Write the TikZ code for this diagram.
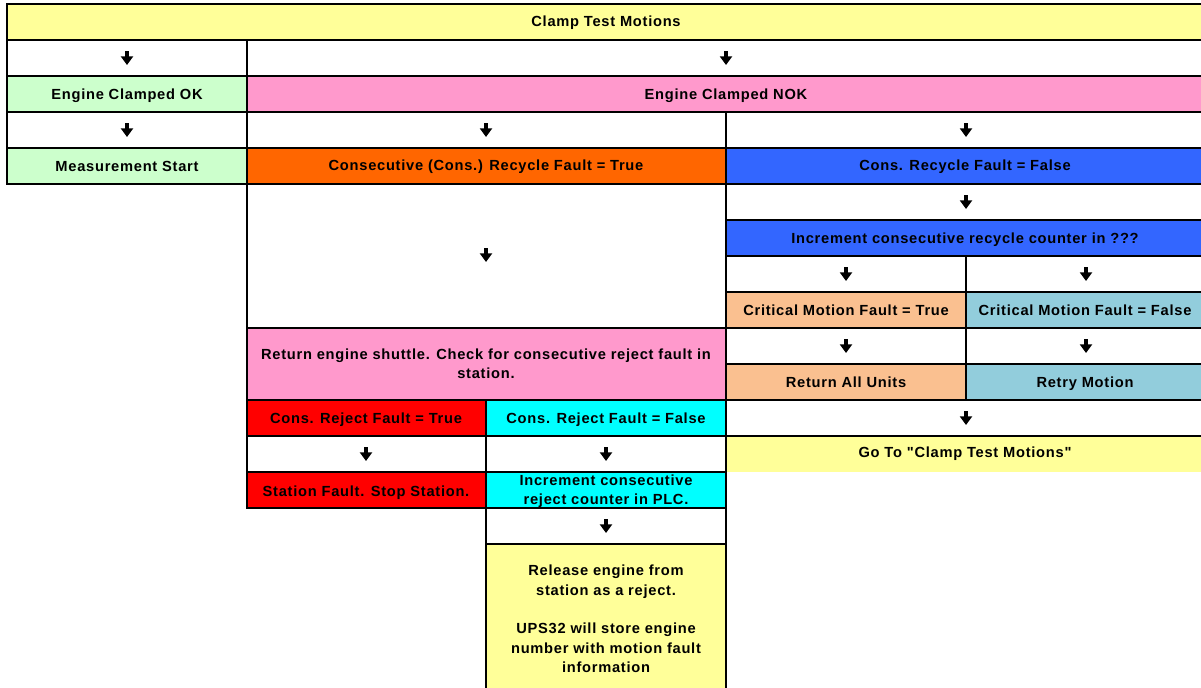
\documentclass[tikz,border=0pt]{standalone}
\usepackage{fontspec}
\setmainfont{Liberation Sans}
\newfontfamily\cellfont{Liberation Sans}[LetterSpace=5.0]
\usetikzlibrary{arrows.meta}

\definecolor{ctmYellow}{RGB}{255,255,153}
\definecolor{ctmGreen}{RGB}{204,255,204}
\definecolor{ctmPink}{RGB}{255,153,204}
\definecolor{ctmOrange}{RGB}{255,102,0}
\definecolor{ctmBlue}{RGB}{51,102,255}
\definecolor{ctmPeach}{RGB}{250,192,144}
\definecolor{ctmLtBlue}{RGB}{146,205,220}
\definecolor{ctmRed}{RGB}{255,0,0}
\definecolor{ctmCyan}{RGB}{0,255,255}

\tikzset{every picture/.style={line width=1.1pt}}
\tikzset{
  cell/.style={draw=black, line width=1.1pt},
  lbl/.style={inner sep=0.75pt, align=center, font=\cellfont\bfseries\fontsize{11}{14.5}\selectfont},
  lbl1/.style={lbl, text height=9.5pt, text depth=2.4pt},
  dnarrow/.style={line width=2.6pt, -{Triangle[width=9pt,length=6.5pt]}},
}

\begin{document}
\begin{tikzpicture}[x=0.75pt,y=0.75pt,yscale=-1,xscale=1]
    \clip (0,0) rectangle (1201,687);

    %Shape: Rectangle [title row]
    \draw [cell, fill=ctmYellow] (7,4) -- (1205,4) -- (1205,40) -- (7,40) -- cycle ;
    %Shape: Rectangle [row 2]
    \draw [cell, fill=white] (7,40) -- (247,40) -- (247,76) -- (7,76) -- cycle ;
    \draw [cell, fill=white] (247,40) -- (1205,40) -- (1205,76) -- (247,76) -- cycle ;
    %Shape: Rectangle [row 3]
    \draw [cell, fill=ctmGreen] (7,76) -- (247,76) -- (247,112) -- (7,112) -- cycle ;
    \draw [cell, fill=ctmPink] (247,76) -- (1205,76) -- (1205,112) -- (247,112) -- cycle ;
    %Shape: Rectangle [row 4]
    \draw [cell, fill=white] (7,112) -- (247,112) -- (247,148) -- (7,148) -- cycle ;
    \draw [cell, fill=white] (247,112) -- (726,112) -- (726,148) -- (247,148) -- cycle ;
    \draw [cell, fill=white] (726,112) -- (1205,112) -- (1205,148) -- (726,148) -- cycle ;
    %Shape: Rectangle [row 5]
    \draw [cell, fill=ctmGreen] (7,148) -- (247,148) -- (247,184) -- (7,184) -- cycle ;
    \draw [cell, fill=ctmOrange] (247,148) -- (726,148) -- (726,184) -- (247,184) -- cycle ;
    \draw [cell, fill=ctmBlue] (726,148) -- (1205,148) -- (1205,184) -- (726,184) -- cycle ;
    %Shape: Rectangle [true branch]
    \draw [cell, fill=white] (247,184) -- (726,184) -- (726,328) -- (247,328) -- cycle ;
    \draw [cell, fill=ctmPink] (247,328) -- (726,328) -- (726,400) -- (247,400) -- cycle ;
    \draw [cell, fill=ctmRed] (247,400) -- (486,400) -- (486,436) -- (247,436) -- cycle ;
    \draw [cell, fill=ctmCyan] (486,400) -- (726,400) -- (726,436) -- (486,436) -- cycle ;
    \draw [cell, fill=white] (247,436) -- (486,436) -- (486,472) -- (247,472) -- cycle ;
    \draw [cell, fill=white] (486,436) -- (726,436) -- (726,472) -- (486,472) -- cycle ;
    \draw [cell, fill=ctmRed] (247,472) -- (486,472) -- (486,508) -- (247,508) -- cycle ;
    \draw [cell, fill=ctmCyan] (486,472) -- (726,472) -- (726,508) -- (486,508) -- cycle ;
    \draw [cell, fill=white] (486,508) -- (726,508) -- (726,544) -- (486,544) -- cycle ;
    \draw [cell, fill=ctmYellow] (486,544) -- (726,544) -- (726,700) -- (486,700) -- cycle ;
    %Shape: Rectangle [false branch]
    \draw [cell, fill=white] (726,184) -- (1205,184) -- (1205,220) -- (726,220) -- cycle ;
    \draw [cell, fill=ctmBlue] (726,220) -- (1205,220) -- (1205,256) -- (726,256) -- cycle ;
    \draw [cell, fill=white] (726,256) -- (966,256) -- (966,292) -- (726,292) -- cycle ;
    \draw [cell, fill=white] (966,256) -- (1205,256) -- (1205,292) -- (966,292) -- cycle ;
    \draw [cell, fill=ctmPeach] (726,292) -- (966,292) -- (966,328) -- (726,328) -- cycle ;
    \draw [cell, fill=ctmLtBlue] (966,292) -- (1205,292) -- (1205,328) -- (966,328) -- cycle ;
    \draw [cell, fill=white] (726,328) -- (966,328) -- (966,364) -- (726,364) -- cycle ;
    \draw [cell, fill=white] (966,328) -- (1205,328) -- (1205,364) -- (966,364) -- cycle ;
    \draw [cell, fill=ctmPeach] (726,364) -- (966,364) -- (966,400) -- (726,400) -- cycle ;
    \draw [cell, fill=ctmLtBlue] (966,364) -- (1205,364) -- (1205,400) -- (966,400) -- cycle ;
    \draw [cell, fill=white] (726,400) -- (1205,400) -- (1205,436) -- (726,436) -- cycle ;
    \fill [ctmYellow] (726.6,436.6) -- (1205,436.6) -- (1205,472) -- (726.6,472) -- cycle ;

    %Straight Lines [down arrows]
    \coordinate (a1) at (127,51);
    \draw [dnarrow] (a1) -- ++(0,14) ;
    \coordinate (a2) at (726,51);
    \draw [dnarrow] (a2) -- ++(0,14) ;
    \coordinate (a3) at (127,123);
    \draw [dnarrow] (a3) -- ++(0,14) ;
    \coordinate (a4) at (486,123);
    \draw [dnarrow] (a4) -- ++(0,14) ;
    \coordinate (a5) at (966,123);
    \draw [dnarrow] (a5) -- ++(0,14) ;
    \coordinate (a6) at (486,248);
    \draw [dnarrow] (a6) -- ++(0,14) ;
    \coordinate (a7) at (966,195);
    \draw [dnarrow] (a7) -- ++(0,14) ;
    \coordinate (a8) at (846,267);
    \draw [dnarrow] (a8) -- ++(0,14) ;
    \coordinate (a9) at (1086,267);
    \draw [dnarrow] (a9) -- ++(0,14) ;
    \coordinate (a10) at (846,339);
    \draw [dnarrow] (a10) -- ++(0,14) ;
    \coordinate (a11) at (1086,339);
    \draw [dnarrow] (a11) -- ++(0,14) ;
    \coordinate (a12) at (966,411);
    \draw [dnarrow] (a12) -- ++(0,14) ;
    \coordinate (a13) at (366,447);
    \draw [dnarrow] (a13) -- ++(0,14) ;
    \coordinate (a14) at (606,447);
    \draw [dnarrow] (a14) -- ++(0,14) ;
    \coordinate (a15) at (606,519);
    \draw [dnarrow] (a15) -- ++(0,14) ;

    % Text Node
    \draw (606,22) node [lbl1] (title) {Clamp Test Motions};
    % Text Node
    \draw (127,95) node [lbl1] (clampok) {Engine Clamped OK};
    % Text Node
    \draw (726,95) node [lbl1] (clampnok) {Engine Clamped NOK};
    % Text Node
    \draw (127,167) node [lbl1] (measstart) {Measurement Start};
    % Text Node
    \draw (486,166) node [lbl1] (recyctrue) {Consecutive (Cons.) Recycle Fault = True};
    % Text Node
    \draw (965,166) node [lbl1] (recycfalse) {Cons. Recycle Fault = False};
    % Text Node
    \draw (965,239) node [lbl1] (incrrecyc) {Increment consecutive recycle counter in ???};
    % Text Node
    \draw (846,311) node [lbl1] (crittrue) {Critical Motion Fault = True};
    % Text Node
    \draw (1085,311) node [lbl1] (critfalse) {Critical Motion Fault = False};
    % Text Node
    \draw (486,364) node [lbl] (retshuttle) {Return engine shuttle. Check for consecutive reject fault in\\station.};
    % Text Node
    \draw (846,383) node [lbl1] (retunits) {Return All Units};
    % Text Node
    \draw (1085,383) node [lbl1] (retry) {Retry Motion};
    % Text Node
    \draw (366,419) node [lbl1] (rejtrue) {Cons. Reject Fault = True};
    % Text Node
    \draw (606,419) node [lbl1] (rejfalse) {Cons. Reject Fault = False};
    % Text Node
    \draw (965,453) node [lbl1] (goto) {Go To "Clamp Test Motions"};
    % Text Node
    \draw (366,492) node [lbl1] (stnfault) {Station Fault. Stop Station.};
    % Text Node
    \draw (606,491) node [lbl] (incrrej) {Increment consecutive\\reject counter in PLC.};
    % Text Node
    \draw (606,619) node [lbl] (release) {Release engine from\\station as a reject.\\[14.5pt]UPS32 will store engine\\number with motion fault\\information};
\end{tikzpicture}
\end{document}
